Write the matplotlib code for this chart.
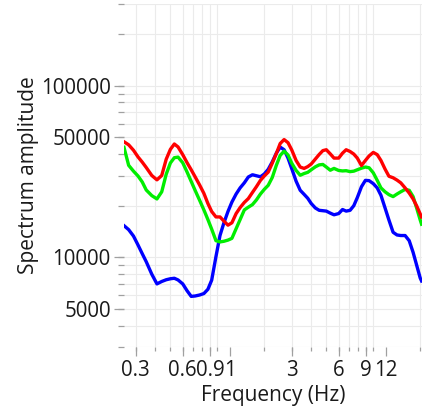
import matplotlib
matplotlib.use("Agg")
import matplotlib.pyplot as plt
from matplotlib.ticker import FixedLocator, FixedFormatter, NullFormatter

plt.rcParams['font.family'] = ['Open Sans', 'DejaVu Sans']

# smoothed spectra, one curve per colour channel
freq = [0.252, 0.27, 0.29, 0.31, 0.33, 0.35, 0.38, 0.41, 0.44, 0.47,
        0.50, 0.53, 0.56, 0.60, 0.64, 0.68, 0.72, 0.77, 0.82, 0.87,
        0.92, 0.98, 1.04, 1.10, 1.17, 1.24, 1.32, 1.40, 1.49, 1.58,
        1.68, 1.78, 1.89, 2.0, 2.12, 2.25, 2.39, 2.53, 2.68, 2.84,
        3.0, 3.2, 3.4, 3.6, 3.8, 4.0, 4.25, 4.5, 4.75, 5.0,
        5.3, 5.6, 6.0, 6.35, 6.7, 7.1, 7.5, 7.9, 8.4, 8.9,
        9.4, 10.0, 10.6, 11.2, 11.9, 12.6, 13.4, 14.2, 15.0, 16.0,
        17.0, 18.0, 19.0, 20.0, 20.4]

red = [47200, 45300, 42100, 38500, 35900, 33400, 30000, 28300, 30000, 37300,
       42600, 45800, 44000, 39700, 35600, 32400, 29500, 26400, 23600, 20600,
       18500, 17200, 17200, 16300, 15400, 15900, 18000, 19500, 20900, 22000,
       23900, 25800, 28100, 29800, 31400, 35400, 40300, 46100, 48600, 46600,
       42300, 36700, 33600, 33000, 33800, 35000, 37400, 39800, 41900, 42400,
       40100, 37900, 37900, 40500, 42400, 41400, 40000, 37900, 34300, 36700,
       39000, 40900, 39700, 36700, 32700, 29700, 29100, 28200, 27200, 25400,
       23700, 21900, 19900, 17900, 17200]

green = [43800, 34400, 31800, 29800, 27500, 24700, 22900, 21900, 24100, 30500,
         35500, 38100, 38400, 35600, 31400, 27700, 24600, 21500, 18900, 16600,
         14600, 12500, 12300, 12400, 12600, 12900, 14700, 16600, 18900, 19600,
         20300, 21600, 23400, 24900, 26300, 29200, 34400, 39300, 41600, 39500,
         35400, 32100, 30100, 30800, 31300, 32400, 33700, 34600, 34800, 33600,
         32200, 33000, 32100, 31900, 32000, 31600, 31800, 32400, 33100, 33600,
         33300, 31100, 28100, 25400, 24100, 23200, 22600, 23400, 24100, 24900,
         24600, 22600, 19300, 16500, 15600]

blue = [15300, 14500, 13300, 11800, 10500, 9430, 7970, 7000, 7230, 7400,
        7500, 7550, 7380, 7000, 6380, 5920, 5950, 6030, 6150, 6510,
        7360, 10100, 13400, 15800, 18500, 21000, 23400, 25400, 27200, 29400,
        30300, 29900, 29500, 30600, 32600, 36000, 40500, 43900, 42400, 37900,
        32900, 27800, 24600, 23300, 22100, 20600, 19400, 18800, 18700, 18600,
        18100, 17700, 18000, 19000, 18600, 18800, 20000, 22300, 25800, 28100,
        28000, 26900, 25400, 23000, 19400, 16500, 14000, 13500, 13400, 13400,
        12500, 10700, 8960, 7570, 7280]

xTicks = [0.3, 0.6, 0.9, 1.2, 3, 6, 9, 12]
xTickLabels = ['0.3', '0.6', '0.9', '1', '3', '6', '9', '12']
xGrid = [0.3, 0.4, 0.5, 0.6, 0.7, 0.8, 0.9, 1, 2, 3, 4, 5, 6, 7, 8, 9, 10, 20]
yTicks = [5000, 10000, 50000, 100000]
yGrid = [3000, 4000, 5000, 6000, 7000, 8000, 9000,
         10000, 20000, 30000, 40000, 50000, 60000, 70000, 80000, 90000,
         100000, 200000, 300000]

fig = plt.figure(figsize=(4.23, 4.09), dpi=100)
ax = fig.add_axes([0.2931, 0.1516, 0.7035, 0.8386])

ax.plot(freq, blue, color='#0000ff', lw=2.4, solid_joinstyle='round')
ax.plot(freq, green, color='#00ee00', lw=2.4, solid_joinstyle='round')
ax.plot(freq, red, color='#ff0000', lw=2.4, solid_joinstyle='round')

ax.set_xscale('log')
ax.set_yscale('log')
ax.set_xlim(0.252, 20.4)
ax.set_ylim(3000, 300000)

# labelled ticks are major, the light grid sits on the minor ticks
ax.xaxis.remove_overlapping_locs = False
ax.yaxis.remove_overlapping_locs = False
ax.xaxis.set_major_locator(FixedLocator(xTicks))
ax.xaxis.set_major_formatter(FixedFormatter(xTickLabels))
ax.xaxis.set_minor_locator(FixedLocator(xGrid))
ax.xaxis.set_minor_formatter(NullFormatter())
ax.yaxis.set_major_locator(FixedLocator(yTicks))
ax.yaxis.set_major_formatter(FixedFormatter([str(v) for v in yTicks]))
ax.yaxis.set_minor_locator(FixedLocator(yGrid))
ax.yaxis.set_minor_formatter(NullFormatter())

ax.grid(False, which='major')
ax.grid(True, which='minor', color='#ebebeb', lw=0.8)
ax.set_axisbelow(True)

for s in ax.spines.values():
    s.set_visible(False)

ax.tick_params(which='major', axis='x', length=6.5, width=0.9, color='#a0a0a0',
               labelsize=14.8, labelcolor='#1a1a1a', pad=3)
ax.tick_params(which='minor', axis='x', length=3.2, width=0.9, color='#a0a0a0')
ax.tick_params(which='major', axis='y', length=7.5, width=0.9, color='#a0a0a0',
               labelsize=14.8, labelcolor='#1a1a1a', pad=2)
ax.tick_params(which='minor', axis='y', length=4, width=0.9, color='#a0a0a0')

ax.set_xlabel('Frequency (Hz)', fontsize=15, color='#1a1a1a', labelpad=3)
ax.set_ylabel('Spectrum amplitude', fontsize=15, color='#1a1a1a', labelpad=1.5)

fig.savefig('out.png', dpi=100)
